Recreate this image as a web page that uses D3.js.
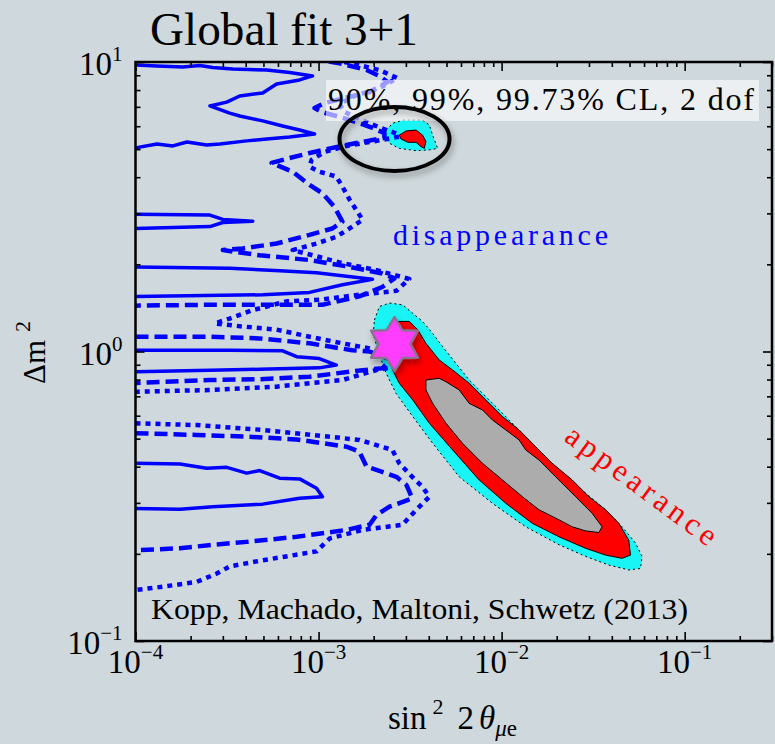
<!DOCTYPE html>
<html>
<head>
<meta charset="utf-8">
<script src="https://cdn.jsdelivr.net/npm/d3@7/dist/d3.min.js"></script>
<style>
body { margin: 0; background: #cfd8dc; }
svg { display: block; font-family: "Liberation Serif", "Times New Roman", serif; }
</style>
</head>
<body>
<svg id="chart" width="775" height="744"></svg>
<script>
// axis ticks (decades)
var xMajor = [1e-4, 1e-3, 1e-2, 1e-1]
var xMajorLabels = ["\u22124", "\u22123", "\u22122", "\u22121"]
var yMajor = [0.1, 1, 10]
var yMajorLabels = ["\u22121", "0", "1"]

// disappearance, 90% CL (solid lines)
var dis90_a = [[1e-4,9.76],[1.31e-4,9.69],[1.81e-4,9.61],[2.25e-4,9.72],[2.64e-4,9.57],[3.4e-4,9.46],[5.21e-4,9.38],[6.95e-4,9.2],[9.27e-4,8.95],[7.88e-4,8.67],[5.9e-4,8.39],[4.95e-4,7.82],[3.71e-4,7.63],[3.15e-4,7.27],[2.55e-4,7.05],[3.27e-4,6.66],[3.71e-4,6.51],[4.95e-4,6.26],[6.37e-4,6.01],[7.88e-4,5.82],[9.51e-4,5.64],[6.95e-4,5.51],[5.21e-4,5.42],[4.05e-4,5.34],[2.89e-4,5.21],[2.45e-4,5.17],[1.91e-4,5.29],[1.6e-4,5.13],[1.31e-4,5.21],[1e-4,5.05]]
var dis90_b = [[1e-4,2.98],[2.55e-4,2.96],[3.0e-4,2.86],[4.37e-4,2.82],[3.0e-4,2.79],[2.55e-4,2.7],[1e-4,2.66]]
var dis90_c = [[1e-4,1.96],[3.27e-4,1.94],[6.13e-4,1.9],[9.75e-4,1.87],[1.42e-3,1.82],[1.97e-3,1.775],[1.35e-3,1.7],[8.93e-4,1.6],[4.95e-4,1.57],[1e-4,1.55]]
var dis90_d = [[1e-4,1.01],[3.27e-4,1.01],[6.37e-4,1.005],[7.59e-4,0.96],[1.01e-3,0.945],[1.25e-3,0.898],[1.01e-3,0.878],[4.77e-4,0.868],[2.55e-4,0.862],[1e-4,0.852]]
var dis90_e = [[1e-4,0.411],[1.75e-4,0.409],[2.45e-4,0.395],[3.15e-4,0.398],[4.05e-4,0.38],[4.77e-4,0.388],[6.13e-4,0.365],[7.88e-4,0.363],[9.75e-4,0.337],[1.05e-3,0.315],[7.88e-4,0.311],[4.95e-4,0.297],[2.64e-4,0.291],[1.75e-4,0.285],[1e-4,0.287]]

// disappearance, 99% CL (dashed lines)
var dis99_a = [[9.0e-4,10.3],[1.3e-3,9.9],[1.83e-3,9.38],[2.15e-3,8.95],[2.38e-3,8.53],[1.9e-3,7.88],[1.39e-3,7.51],[1.08e-3,7.22],[9.51e-4,6.93],[1.04e-3,6.72],[1.3e-3,6.46],[1.61e-3,6.2],[1.97e-3,5.92],[2.29e-3,5.68],[2.29e-3,5.47],[1.61e-3,5.25],[1.19e-3,5.05],[8.93e-4,4.85],[6.95e-4,4.66],[5.54e-4,4.48],[7.22e-4,4.18],[8.93e-4,3.76],[1.05e-3,3.52],[1.22e-3,3.16],[1.35e-3,2.81],[1.19e-3,2.66],[8.93e-4,2.53],[5.9e-4,2.36],[3.85e-4,2.27],[3.0e-4,2.24],[4.77e-4,2.15],[8.93e-4,2.07],[1.48e-3,1.96],[2.23e-3,1.86],[2.6e-3,1.79],[2.23e-3,1.67],[1.67e-3,1.55],[1.05e-3,1.45],[2.55e-4,1.45],[1e-4,1.44]]
var dis99_b = [[1e-4,1.125],[2.55e-4,1.125],[4.77e-4,1.11],[8.93e-4,1.067],[1.53e-3,1.01],[1.9e-3,1.0],[2.5e-3,0.936],[2.23e-3,0.876],[1.48e-3,0.852],[8.93e-4,0.818],[4.77e-4,0.802],[2.55e-4,0.797],[1e-4,0.778]]
var dis99_c = [[1e-4,0.522],[2.16e-4,0.515],[4.05e-4,0.508],[7.59e-4,0.497],[9.27e-4,0.488],[1.42e-3,0.469],[1.67e-3,0.451],[1.83e-3,0.4],[2.23e-3,0.384],[2.66e-3,0.369],[3.02e-3,0.346],[3.25e-3,0.311],[2.44e-3,0.291],[2.07e-3,0.272],[1.9e-3,0.252],[1.42e-3,0.242],[7.59e-4,0.229],[4.05e-4,0.22],[2.64e-4,0.215],[1.75e-4,0.209],[1e-4,0.206]]

// disappearance, 99.73% CL (dotted lines)
var dis9973_a = [[1.08e-3,10.3],[1.57e-3,9.84],[2.15e-3,9.38],[2.7e-3,8.8],[2.15e-3,8.13],[1.57e-3,7.63],[1.3e-3,7.16],[1.39e-3,6.72],[1.72e-3,6.3],[2.19e-3,5.92],[2.7e-3,5.64],[2.76e-3,5.52],[1.97e-3,5.31],[1.42e-3,5.13],[1.08e-3,4.89],[9.16e-4,4.59],[8.93e-4,4.35],[1.01e-3,4.18],[1.25e-3,4.02],[1.35e-3,3.71],[1.48e-3,3.34],[1.61e-3,3.08],[1.74e-3,2.85],[1.53e-3,2.7],[1.25e-3,2.49],[9.75e-4,2.36],[7.22e-4,2.24],[1.35e-3,2.02],[2.07e-3,1.91],[3.13e-3,1.78],[2.66e-3,1.62],[1.67e-3,1.57],[1.01e-3,1.51],[6.7e-4,1.49],[4.37e-4,1.39],[3.27e-4,1.3],[2.71e-4,1.25],[3.85e-4,1.22],[5.9e-4,1.19],[8.93e-4,1.125],[1.35e-3,1.067],[1.9e-3,1.025],[2.6e-3,0.96],[2.66e-3,0.886],[2.07e-3,0.863],[1.35e-3,0.797],[5.9e-4,0.756],[2.55e-4,0.736],[1e-4,0.726]]
var dis9973_b = [[1e-4,0.565],[2.16e-4,0.557],[4.95e-4,0.536],[9.27e-4,0.515],[1.67e-3,0.495],[2.53e-3,0.457],[2.76e-3,0.411],[3.25e-3,0.369],[3.69e-3,0.341],[4.03e-3,0.315],[3.42e-3,0.284],[2.87e-3,0.252],[1.74e-3,0.242],[1.15e-3,0.226],[9.75e-4,0.204],[4.95e-4,0.19],[3.27e-4,0.181],[2.78e-4,0.171],[2.16e-4,0.16],[1.41e-4,0.154],[1e-4,0.15]]

// appearance regions (filled)
var app9973 = [[2.02e-3,1.285],[2.15e-3,1.43],[2.44e-3,1.47],[2.88e-3,1.45],[3.27e-3,1.355],[3.7e-3,1.27],[4.2e-3,1.156],[4.76e-3,1.04],[5.63e-3,0.91],[6.65e-3,0.797],[7.86e-3,0.717],[9.69e-3,0.628],[1.195e-2,0.55],[1.47e-2,0.482],[1.815e-2,0.422],[2.24e-2,0.369],[2.88e-2,0.324],[3.7e-2,0.284],[4.55e-2,0.248],[5.39e-2,0.218],[5.85e-2,0.196],[5.74e-2,0.178],[4.95e-2,0.176],[3.85e-2,0.183],[2.88e-2,0.196],[2.06e-2,0.215],[1.355e-2,0.248],[8.91e-3,0.299],[5.87e-3,0.369],[4.2e-3,0.482],[3.27e-3,0.596],[2.65e-3,0.717],[2.34e-3,0.841],[2.105e-3,1.01],[1.99e-3,1.156]]
var app99 = [[2.65e-3,1.27],[3.13e-3,1.27],[3.48e-3,1.19],[3.86e-3,1.067],[4.56e-3,0.935],[5.4e-3,0.863],[6.65e-3,0.777],[8.2e-3,0.68],[1.01e-2,0.596],[1.246e-2,0.536],[1.536e-2,0.469],[1.89e-2,0.411],[2.43e-2,0.36],[3.0e-2,0.315],[3.7e-2,0.284],[4.37e-2,0.255],[4.95e-2,0.223],[5.06e-2,0.198],[4.55e-2,0.193],[3.7e-2,0.198],[2.88e-2,0.209],[2.06e-2,0.229],[1.47e-2,0.255],[1.054e-2,0.299],[7.54e-3,0.36],[5.4e-3,0.457],[4.03e-3,0.565],[3.27e-3,0.68],[2.76e-3,0.777],[2.54e-3,0.863],[2.44e-3,0.959],[2.54e-3,1.125]]
var app90 = [[3.86e-3,0.797],[4.56e-3,0.808],[4.97e-3,0.786],[5.87e-3,0.736],[6.65e-3,0.662],[7.86e-3,0.628],[8.91e-3,0.58],[1.054e-2,0.536],[1.246e-2,0.495],[1.355e-2,0.457],[1.6e-2,0.422],[1.975e-2,0.369],[2.54e-2,0.315],[3.125e-2,0.276],[3.54e-2,0.248],[3.4e-2,0.237],[2.88e-2,0.24],[2.43e-2,0.248],[2.06e-2,0.262],[1.6e-2,0.284],[1.3e-2,0.315],[1.01e-2,0.36],[7.86e-3,0.411],[6.11e-3,0.482],[4.97e-3,0.565],[4.2e-3,0.662],[3.86e-3,0.736]]
var island9973 = [[2.34e-3,5.82],[2.54e-3,6.14],[2.88e-3,6.3],[3.7e-3,6.3],[4.03e-3,6.06],[4.2e-3,5.59],[4.47e-3,5.03],[4.03e-3,4.97],[3.41e-3,4.94],[2.76e-3,5.03],[2.44e-3,5.24],[2.32e-3,5.52]]
var island99 = [[2.76e-3,5.59],[3.01e-3,5.78],[3.41e-3,5.82],[3.7e-3,5.59],[3.86e-3,5.31],[3.78e-3,5.03],[3.63e-3,5.1],[3.41e-3,5.28],[3.07e-3,5.28],[2.82e-3,5.42]]

// best fit point and circled island
var bestFit = [2.6e-3, 1.06]
var islandCenter = [2.6e-3, 5.42]

var plotL = 135.5, plotR = 772, plotT = 62, plotB = 641
var blue = "#0000ff"

var x = d3.scaleLog().domain([1e-4, 0.3]).range([plotL, plotR])
var y = d3.scaleLog().domain([0.1, 10]).range([plotB, plotT])

var svg = d3.select("#chart")

svg.append("rect").attr("width", 775).attr("height", 744).attr("fill", "#cfd8dc")

var defs = svg.append("defs")
defs.append("clipPath").attr("id", "plotclip")
    .append("rect").attr("x", plotL).attr("y", plotT)
    .attr("width", plotR - plotL).attr("height", plotB - plotT)
var shadow = defs.append("filter").attr("id", "shadow")
    .attr("x", "-30%").attr("y", "-30%").attr("width", "160%").attr("height", "160%")
shadow.append("feDropShadow").attr("dx", 2).attr("dy", 4).attr("stdDeviation", 3)
    .attr("flood-color", "#000").attr("flood-opacity", 0.35)

var line = d3.line().x(d => x(d[0])).y(d => y(d[1]))
var area = d => line(d) + "Z"

var plot = svg.append("g").attr("clip-path", "url(#plotclip)")

// appearance
function region(pts, fill, dash) {
    plot.append("path").attr("d", area(pts))
        .attr("fill", fill)
        .attr("stroke", "#000")
        .attr("stroke-width", 1)
        .attr("stroke-dasharray", dash ? "2,3" : null)
        .attr("stroke-linejoin", "round")
}
region(app9973, "#19f5f5", true)
region(app99, "#ff0000", false)
region(app90, "#acacac", false)
region(island9973, "#19f5f5", true)
region(island99, "#ff0000", false)

// disappearance
function contour(pts, dash, w) {
    plot.append("path").attr("d", line(pts))
        .attr("fill", "none")
        .attr("stroke", blue)
        .attr("stroke-width", w)
        .attr("stroke-dasharray", dash)
        .attr("stroke-linejoin", "round")
}
;[dis90_a, dis90_b, dis90_c, dis90_d, dis90_e].forEach(c => contour(c, null, 3.5))
;[dis99_a, dis99_b, dis99_c].forEach(c => contour(c, "13,6", 4.5))
;[dis9973_a, dis9973_b].forEach(c => contour(c, "5,5", 4.5))

// CL legend box
svg.append("rect").attr("x", 326).attr("y", 80).attr("width", 433).attr("height", 41)
    .attr("fill", "#ffffff").attr("fill-opacity", 0.6)
svg.append("text").attr("x", 328).attr("y", 110)
    .attr("font-size", 32).attr("textLength", 426).attr("lengthAdjust", "spacing")
    .text("90%, 99%, 99.73% CL, 2 dof")

// ellipse round the island
svg.append("ellipse")
    .attr("cx", x(islandCenter[0])).attr("cy", y(islandCenter[1]))
    .attr("rx", 55).attr("ry", 32)
    .attr("fill", "none").attr("stroke", "#000").attr("stroke-width", 4)
    .attr("filter", "url(#shadow)")

// star at best fit
var starPts = d3.range(12).map(function(i) {
    var r = i % 2 == 0 ? 27 : 16
    var a = i * Math.PI / 6 - Math.PI / 2
    return [r * Math.cos(a), r * Math.sin(a)]
})
svg.append("path")
    .attr("d", d3.line()(starPts) + "Z")
    .attr("transform", `translate(${x(bestFit[0])},${y(bestFit[1])})`)
    .attr("fill", "#ff3cff").attr("stroke", "#8c6f8f").attr("stroke-width", 2.5)
    .attr("stroke-linejoin", "round")
    .attr("filter", "url(#shadow)")

// axes: minor and major ticks on all four sides, pointing inward
var xMinor = x.ticks().filter(v => xMajor.indexOf(v) < 0)
var yMinor = y.ticks().filter(v => yMajor.indexOf(v) < 0)

function ticks(axis, tr) {
    var g = svg.append("g").attr("transform", tr).call(axis)
    g.select(".domain").remove()
    g.selectAll("line").attr("stroke", "#000").attr("stroke-width", 1.6)
    g.selectAll("text").remove()
}
ticks(d3.axisBottom(x).tickValues(xMinor).tickSize(-5), `translate(0,${plotB})`)
ticks(d3.axisBottom(x).tickValues(xMajor).tickSize(-9), `translate(0,${plotB})`)
ticks(d3.axisTop(x).tickValues(xMinor).tickSize(-5), `translate(0,${plotT})`)
ticks(d3.axisTop(x).tickValues(xMajor).tickSize(-9), `translate(0,${plotT})`)
ticks(d3.axisLeft(y).tickValues(yMinor).tickSize(-5), `translate(${plotL},0)`)
ticks(d3.axisLeft(y).tickValues(yMajor).tickSize(-9), `translate(${plotL},0)`)
ticks(d3.axisRight(y).tickValues(yMinor).tickSize(-5), `translate(${plotR},0)`)
ticks(d3.axisRight(y).tickValues(yMajor).tickSize(-9), `translate(${plotR},0)`)

svg.append("rect").attr("x", plotL).attr("y", plotT)
    .attr("width", plotR - plotL).attr("height", plotB - plotT)
    .attr("fill", "none").attr("stroke", "#000").attr("stroke-width", 2.5)

// tick labels
xMajor.forEach(function(v, i) {
    var t = svg.append("text").attr("x", x(v)).attr("y", plotB + 32)
        .attr("text-anchor", "middle").attr("font-size", 33)
    t.append("tspan").text("10")
    t.append("tspan").attr("dy", -14).attr("font-size", 21).text(xMajorLabels[i])
})
yMajor.forEach(function(v, i) {
    var t = svg.append("text").attr("x", plotL - 13).attr("y", y(v) + 13)
        .attr("text-anchor", "end").attr("font-size", 33)
    t.append("tspan").text("10")
    t.append("tspan").attr("dy", -14).attr("font-size", 21).text(yMajorLabels[i])
})

// axis titles
var xt = svg.append("text").attr("x", 388).attr("y", 729).attr("font-size", 33)
xt.append("tspan").text("sin")
xt.append("tspan").attr("dx", 6).attr("dy", -15).attr("font-size", 22).text("2")
xt.append("tspan").attr("dx", 14).attr("dy", 15).text("2")
xt.append("tspan").attr("dx", 5).attr("font-style", "italic").text("\u03b8")
xt.append("tspan").attr("dy", 7).attr("font-size", 23).attr("font-style", "italic").text("\u03bc")
xt.append("tspan").attr("font-size", 23).text("e")

var yt = svg.append("text").attr("transform", "translate(45,384) rotate(-90)").attr("font-size", 31)
yt.append("tspan").text("\u0394m")
yt.append("tspan").attr("dx", 8).attr("dy", -15).attr("font-size", 22).text("2")

// titles and annotations
svg.append("text").attr("x", 150).attr("y", 45).attr("font-size", 46)
    .attr("textLength", 268).attr("lengthAdjust", "spacingAndGlyphs")
    .text("Global fit 3+1")

svg.append("text").attr("x", 393).attr("y", 245).attr("font-size", 30)
    .attr("fill", blue).attr("textLength", 215).attr("lengthAdjust", "spacing")
    .text("disappearance")

svg.append("text").attr("transform", "translate(563,440) rotate(36.5)")
    .attr("font-size", 31).attr("fill", "#ff0000")
    .attr("textLength", 180).attr("lengthAdjust", "spacing")
    .text("appearance")

svg.append("text").attr("x", 151).attr("y", 619).attr("font-size", 29)
    .attr("textLength", 537).attr("lengthAdjust", "spacingAndGlyphs")
    .text("Kopp, Machado, Maltoni, Schwetz (2013)")
</script>
</body>
</html>
